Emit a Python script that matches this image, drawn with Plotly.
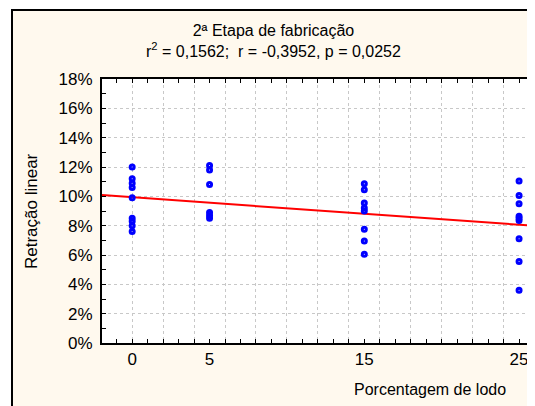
import numpy as np
import plotly.graph_objects as go

# % de lodo e retração linear (%)
lodo_0 = [12.0, 11.2, 10.9, 10.6, 9.9, 8.5, 8.3, 8.0, 7.6]
lodo_5 = [12.1, 11.8, 10.8, 8.9, 8.7, 8.5]
lodo_15 = [10.85, 10.45, 9.55, 9.2, 9.0, 7.75, 6.95, 6.05]
lodo_25 = [11.05, 10.05, 9.5, 8.65, 8.5, 8.35, 7.1, 5.55, 3.6]

groups = {0: lodo_0, 5: lodo_5, 15: lodo_15, 25: lodo_25}
x_ticks = [0, 5, 15, 25]
y_ticks = [0, 2, 4, 6, 8, 10, 12, 14, 16, 18]

title = "2ª Etapa de fabricação"
subtitle = "r<sup>2</sup> = 0,1562;\u00a0 r = -0,3952, p = 0,0252"

x = np.concatenate([[k] * len(v) for k, v in groups.items()]).astype(float)
y = np.concatenate(list(groups.values())) / 100

X_RANGE = [-1.95, 25.9]
Y_RANGE = [0, 0.18]
FONT = "Arial, Liberation Sans, sans-serif"
OFF = 8  # default body margin of the html page
W, H = 535 - OFF, 406 - OFF
L, R, T, B = 94, 2, 71, 63
pw, ph = W - L - R, H - T - B


# page pixel -> paper coordinates
def px_x(p):
    return (p - OFF - L) / pw


def px_y(p):
    return (H - B - (p - OFF)) / ph


slope, intercept = np.polyfit(x, y, 1)
fit_x = np.array(X_RANGE)

fig = go.Figure()
fig.add_scatter(
    x=fit_x, y=intercept + slope * fit_x, mode="lines",
    line={"color": "#FF0000", "width": 2}, showlegend=False, hoverinfo="skip",
)
fig.add_scatter(
    x=x, y=y, mode="markers",
    marker={"symbol": "circle-open", "size": 4, "color": "#0000FF",
            "line": {"width": 3, "color": "#0000FF"}},
    showlegend=False,
)

# frame, cream panel and white plot area
fig.add_shape(type="rect", xref="paper", yref="paper",
              x0=px_x(12), x1=px_x(560), y0=px_y(430), y1=px_y(10),
              fillcolor="#FFF9EE", line={"color": "black", "width": 2}, layer="below")
fig.add_shape(type="rect", xref="paper", yref="paper", x0=0, x1=1, y0=0, y1=1,
              fillcolor="white", line_width=0, layer="below")

x_vals = list(range(-1, 26))
y_vals = [v / 100 for v in range(0, 19)]
fig.update_xaxes(
    range=X_RANGE, tickvals=x_vals, automargin=False,
    ticktext=[str(v) if v in x_ticks else "" for v in x_vals],
    ticks="inside", ticklen=4, tickcolor="black", tickwidth=1,
    showline=True, linecolor="black", linewidth=2, mirror="ticks",
    showgrid=False, zeroline=False,
    tickfont={"size": 17, "color": "black", "family": FONT},
)
fig.update_yaxes(
    range=Y_RANGE, tickvals=y_vals, automargin=False,
    ticktext=[f"{round(v * 100)}%" if round(v * 100) in y_ticks else "" for v in y_vals],
    ticks="inside", ticklen=4, tickcolor="black", tickwidth=1,
    showline=True, linecolor="black", linewidth=2, mirror="ticks",
    showgrid=False, zeroline=False, ticklabelstandoff=4,
    tickfont={"size": 17, "color": "black", "family": FONT},
)

grid = {"showgrid": True, "gridcolor": "#C8C8C8", "gridwidth": 1, "griddash": "dot",
        "showticklabels": False, "ticks": "", "zeroline": False, "showline": False,
        "automargin": False}
fig.update_layout(
    xaxis2={"overlaying": "x", "anchor": "y", "range": X_RANGE, "tick0": 0, "dtick": 2, **grid},
    yaxis2={"overlaying": "y", "anchor": "x", "range": Y_RANGE, "tick0": 0, "dtick": 0.02, **grid},
)
fig.add_scatter(x=[None], y=[None], xaxis="x2", yaxis="y2", showlegend=False)

fig.add_annotation(xref="paper", yref="paper", x=px_x(273), y=px_y(41),
                   text=f"{title}<br>{subtitle}", showarrow=False,
                   xanchor="center", yanchor="middle",
                   font={"size": 16, "color": "black", "family": FONT})
fig.add_annotation(xref="paper", yref="paper", x=px_x(31), y=px_y(211),
                   text="Retração linear", textangle=-90, showarrow=False,
                   xanchor="center", yanchor="middle",
                   font={"size": 17, "color": "black", "family": FONT})
fig.add_annotation(xref="paper", yref="paper", x=px_x(508), y=px_y(389),
                   text="Porcentagem de lodo", showarrow=False,
                   xanchor="right", yanchor="middle",
                   font={"size": 16, "color": "black", "family": FONT})

fig.update_layout(
    width=W, height=H, template="none",
    margin={"l": L, "r": R, "t": T, "b": B, "pad": 0, "autoexpand": False},
    paper_bgcolor="white", plot_bgcolor="white",
    font={"family": FONT, "color": "black"},
    showlegend=False,
)
fig.write_html("out.html")
